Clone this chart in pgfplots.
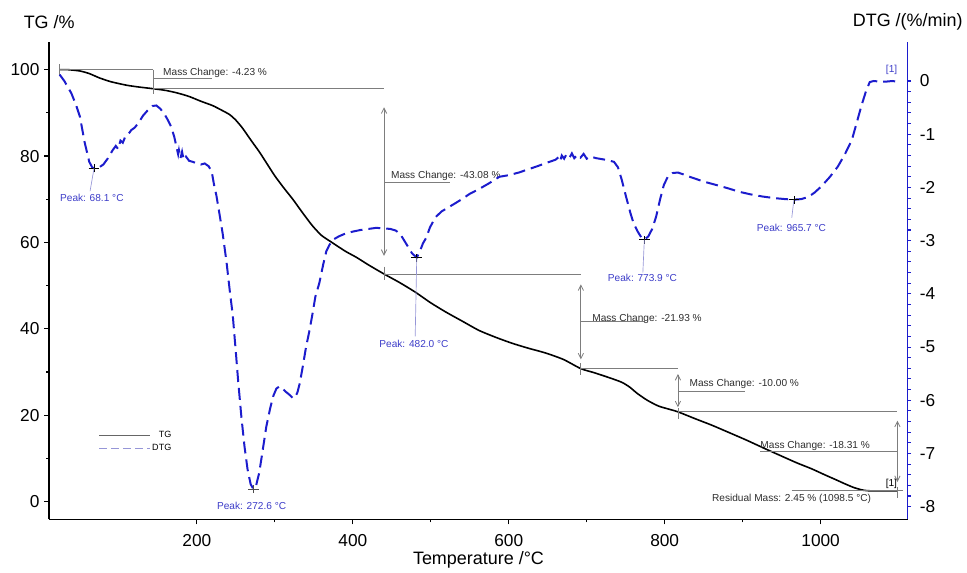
\documentclass[border=0pt]{standalone}
\usepackage{pgfplots}
\pgfplotsset{compat=1.18}
\usepackage{fontspec}
\setmainfont{Liberation Sans}
\usetikzlibrary{arrows.meta}

\definecolor{dtgblue}{RGB}{28,28,205}
\definecolor{peaktext}{RGB}{60,60,200}
\definecolor{peaklead}{RGB}{150,150,215}
\definecolor{anngray}{RGB}{125,125,125}
\definecolor{anntext}{RGB}{45,45,45}

\tikzset{
  ann/.style={draw=anngray, line width=0.6pt},
  annarr/.style={draw=anngray, line width=0.6pt, {Straight Barb[length=4pt,width=4pt]}-{Straight Barb[length=4pt,width=4pt]}},
  anntxt/.style={font=\fontsize{7.6}{9}\selectfont, text=anntext, inner sep=0pt},
  pktxt/.style={font=\fontsize{7.6}{9}\selectfont, text=peaktext, inner sep=0pt},
  pklead/.style={draw=peaklead, line width=0.5pt},
}

\pgfplotsset{
  myaxis/.style={
    width=645.5pt, height=359.25pt, scale only axis,
    at={(0,0)}, anchor=south west,
    xmin=10.6, xmax=1111.7,
    clip=false,
    tick align=outside,
    major tick length=3.8pt, minor tick length=2.2pt,
    /pgf/number format/assume math mode=true,
    /pgf/number format/1000 sep={},
    tick label style={font=\fontsize{13}{15}\selectfont},
  }
}

\begin{document}
\begin{tikzpicture}
\begin{axis}[myaxis, name=tg,
  axis x line*=bottom, axis y line*=left,
  ymin=-4.16, ymax=106.5,
  xtick={200,400,600,800,1000}, minor x tick num=1,
  ytick={0,20,40,60,80,100}, minor y tick num=1,
  xticklabel style={yshift=-3.8pt},
  axis line style={black, line width=1.1pt},
  tick style={black, line width=0.9pt},
  legend style={draw=none, fill=none, at={(axis cs:74,16.9)}, anchor=north west,
    font=\fontsize{6.8}{7}\selectfont, inner sep=0pt, row sep=0.8pt,
    nodes={inner sep=1.5pt}},
  legend cell align=right,
  legend image code/.code={\draw[#1] (0pt,0pt) -- (38pt,0pt);},
]
\addplot[black, line width=1.2pt, smooth, tension=0.4, forget plot] coordinates {
(24,100)(35,100)(50,99.7)(62,99.1)(75,98.1)(90,97.2)(110,96.4)(125,96.0)
(143.7,95.6)(160,95.2)(175,94.6)(190,93.8)(205,92.7)(220,91.7)(232,90.6)
(242,89.6)(250,88.3)(258,86.6)(265,84.8)(272,83.0)(280,81.0)(290,78.2)
(300,75.4)(312,72.5)(323,70.0)(335,67.0)(348,63.9)(360,61.6)(374,59.9)
(390,58.0)(405,56.5)(420,54.8)(440,52.69)(460,50.7)(480,48.5)(500,46.0)
(520,43.8)(540,41.8)(562,39.6)(585,37.9)(605,36.6)(625,35.5)(647,34.4)
(670,32.9)(692.5,30.76)(710,29.8)(730,28.6)(745,27.6)(755,26.5)(765,25.0)
(778,23.4)(792,22.1)(805,21.4)(817,20.76)(840,19.1)(860,17.7)(882,16.0)
(905,14.2)(929,12.2)(950,10.5)(970,8.9)(988,7.6)(1005,6.2)(1020,5.0)
(1031,4.1)(1043,3.2)(1055,2.6)(1065,2.45)(1080,2.45)(1098.5,2.45)
};
\addlegendimage{draw=black!60, line width=0.6pt}
\addlegendentry{TG}
\addlegendimage{draw=peaklead, line width=0.6pt, dash pattern=on 6pt off 3pt}
\addlegendentry{DTG}

% mass change annotations
\draw[ann] (axis cs:24,101.3) -- (axis cs:24,98.7);
\draw[ann] (axis cs:24,100) -- (axis cs:143.7,100);
\draw[ann] (axis cs:143.7,100) -- (axis cs:143.7,94.4);
\draw[ann] (axis cs:143.7,95.77) -- (axis cs:440,95.77);
\draw[ann] (axis cs:143.7,97.9) -- (axis cs:220,97.9);
\node[anntxt, anchor=west] at (axis cs:156.5,99.2) {Mass Change: -4.23 \%};

\draw[annarr] (axis cs:440,91.3) -- (axis cs:440,56.9);
\draw[ann] (axis cs:440,54.4) -- (axis cs:440,51.2);
\draw[ann] (axis cs:440,52.69) -- (axis cs:692.5,52.69);
\draw[ann] (axis cs:440,74.0) -- (axis cs:524,74.0);
\node[anntxt, anchor=west] at (axis cs:448.8,75.4) {Mass Change: -43.08 \%};

\draw[annarr] (axis cs:692.5,50.3) -- (axis cs:692.5,32.9);
\draw[ann] (axis cs:692.5,32.0) -- (axis cs:692.5,29.4);
\draw[ann] (axis cs:692.5,30.76) -- (axis cs:817,30.76);
\draw[ann] (axis cs:692.5,41.6) -- (axis cs:775,41.6);
\node[anntxt, anchor=west] at (axis cs:706.9,42.2) {Mass Change: -21.93 \%};

\draw[annarr] (axis cs:817,29.5) -- (axis cs:817,21.8);
\draw[ann] (axis cs:817,21.6) -- (axis cs:817,19.2);
\draw[ann] (axis cs:817,20.76) -- (axis cs:1098.5,20.76);
\draw[ann] (axis cs:817,25.6) -- (axis cs:903,25.6);
\node[anntxt, anchor=west] at (axis cs:831.6,27.2) {Mass Change: -10.00 \%};

\draw[annarr] (axis cs:1098.5,18.7) -- (axis cs:1098.5,4.5);
\draw[ann] (axis cs:922.5,11.5) -- (axis cs:1098.5,11.5);
\node[anntxt, anchor=west] at (axis cs:922.5,12.9) {Mass Change: -18.31 \%};
\draw[ann] (axis cs:1098.5,3.4) -- (axis cs:1098.5,0.9);
\draw[ann] (axis cs:962.9,2.45) -- (axis cs:1105.8,2.45);
\node[anntxt, anchor=center, text=black] at (axis cs:1090.8,4.0) {[1]};
\node[anntxt, anchor=west] at (axis cs:860.5,0.6) {Residual Mass: 2.45 \% (1098.5 °C)};

% axis titles
\node[font=\fontsize{13.5}{15}\selectfont, anchor=center] at ([yshift=14.8pt]rel axis cs:0,1) {TG /\%};
\node[font=\fontsize{13.5}{15}\selectfont, anchor=center] at ([yshift=14.8pt]rel axis cs:1,1) {DTG /(\%/min)};
\node[font=\fontsize{13.5}{15}\selectfont, anchor=center] at ([yshift=-30.5pt]rel axis cs:0.5,0) {Temperature /°C};
\end{axis}

\begin{axis}[myaxis,
  axis x line=none, axis y line*=right,
  ymin=-8.24, ymax=0.74,
  xtick=\empty,
  ytick={-8,-7,-6,-5,-4,-3,-2,-1,0}, minor y tick num=4,
  axis line style={dtgblue, line width=1.1pt},
  tick style={dtgblue, line width=0.8pt},
  major tick length=2.6pt, minor tick length=2.2pt,
  yticklabel style={black, xshift=3pt},
]
\addplot[dtgblue, line width=1.5pt, dash pattern=on 9pt off 4.5pt] coordinates {
(24,0.12)(30,0.0)(39,-0.23)(45,-0.45)(50,-0.67)(56,-1.15)(62,-1.52)(66,-1.63)
(70,-1.64)(75,-1.62)(80,-1.57)(86,-1.45)(92,-1.30)(96,-1.22)(99,-1.28)(102,-1.12)
(105,-1.16)(108,-1.05)(112,-1.0)(116,-0.92)(120,-0.88)(125,-0.79)(131,-0.65)
(137,-0.55)(143,-0.47)(148,-0.46)(153,-0.52)(158,-0.61)(163,-0.74)(167,-0.86)
(171,-1.05)(174,-1.25)(176,-1.38)(177,-1.30)(179,-1.45)(181,-1.33)(183,-1.48)
(186,-1.42)(190,-1.50)(195,-1.52)(200,-1.55)(205,-1.57)(210,-1.55)(215,-1.60)
(219,-1.70)(222,-1.95)(225,-2.15)(229,-2.50)(233,-2.86)(238,-3.40)(242,-3.92)
(246,-4.40)(250,-5.1)(253,-5.65)(257,-6.3)(261,-6.86)(265,-7.3)(269,-7.58)
(272.6,-7.67)(276,-7.6)(280,-7.36)(284,-6.98)(289,-6.5)(294,-6.15)(298,-5.92)
(302,-5.78)(306,-5.74)(310,-5.78)(314,-5.84)(319,-5.90)(323,-5.96)(326,-5.95)
(329,-5.85)(332,-5.68)(336,-5.35)(340,-5.0)(344,-4.72)(348,-4.4)(352,-4.05)
(357,-3.8)(362,-3.45)(366,-3.2)(370,-3.08)(375,-2.98)(382,-2.92)(390,-2.87)
(400,-2.83)(410,-2.80)(420,-2.78)(430,-2.76)(440,-2.77)(448,-2.78)(455,-2.81)
(461,-2.88)(466,-3.0)(471,-3.12)(476,-3.24)(482,-3.32)(486,-3.20)(490,-3.05)
(494,-2.95)(499,-2.75)(506,-2.56)(514,-2.45)(522,-2.38)(530,-2.31)(540,-2.22)
(550,-2.12)(562,-2.03)(575,-1.92)(588,-1.80)(600,-1.77)(613,-1.72)(625,-1.66)
(637,-1.60)(648,-1.54)(660,-1.48)(664,-1.43)(666,-1.50)(668,-1.40)(671,-1.46)
(674,-1.38)(678,-1.44)(681,-1.36)(684,-1.45)(688,-1.39)(692,-1.44)(696,-1.37)
(700,-1.46)(705,-1.42)(712,-1.45)(720,-1.47)(728,-1.49)(735,-1.52)(740,-1.62)
(745,-1.86)(750,-2.15)(756,-2.48)(760,-2.67)(765,-2.82)(770,-2.94)(774,-2.98)
(779,-2.92)(784,-2.78)(789,-2.55)(794,-2.23)(799,-1.95)(804,-1.80)(810,-1.73)
(817,-1.72)(825,-1.76)(832,-1.80)(840,-1.84)(850,-1.89)(860,-1.93)(870,-1.97)
(882,-2.02)(895,-2.08)(910,-2.13)(925,-2.17)(940,-2.2)(955,-2.22)(966,-2.23)
(975,-2.22)(984,-2.18)(992,-2.10)(1001,-1.98)(1012,-1.80)(1022,-1.61)(1031,-1.38)
(1040,-1.11)(1046,-0.80)(1052,-0.48)(1058,-0.20)(1063,-0.02)(1068,0.0)
(1075,-0.01)(1085,-0.01)(1092,0.0)(1097,-0.01)(1099,-0.09)
};

% peak markers and labels
\draw[black, line width=0.5pt] ([xshift=-4pt]axis cs:68.1,-1.64) -- ([xshift=4pt]axis cs:68.1,-1.64);
\draw[black, line width=0.5pt] ([yshift=-3pt]axis cs:68.1,-1.64) -- ([yshift=3pt]axis cs:68.1,-1.64);
\draw[pklead] (axis cs:68.1,-1.64) -- (axis cs:63,-2.07);
\node[pktxt, anchor=west] at (axis cs:24.3,-2.19) {Peak: 68.1 °C};

\draw[black!70, line width=0.5pt] ([xshift=-4pt]axis cs:272.6,-7.67) -- ([xshift=4pt]axis cs:272.6,-7.67);
\draw[black!70, line width=0.5pt] ([yshift=-3pt]axis cs:272.6,-7.67) -- ([yshift=3pt]axis cs:272.6,-7.67);
\node[pktxt, anchor=west] at (axis cs:225.6,-7.99) {Peak: 272.6 °C};

\draw[black, line width=0.5pt] ([xshift=-4pt]axis cs:482,-3.32) -- ([xshift=4pt]axis cs:482,-3.32);
\draw[black, line width=0.5pt] ([yshift=-3pt]axis cs:482,-3.32) -- ([yshift=3pt]axis cs:482,-3.32);
\draw[pklead] (axis cs:482,-3.32) -- (axis cs:480,-4.80);
\node[pktxt, anchor=west] at (axis cs:433.8,-4.95) {Peak: 482.0 °C};

\draw[black, line width=0.5pt] ([xshift=-4pt]axis cs:773.9,-2.98) -- ([xshift=4pt]axis cs:773.9,-2.98);
\draw[black, line width=0.5pt] ([yshift=-3pt]axis cs:773.9,-2.98) -- ([yshift=3pt]axis cs:773.9,-2.98);
\draw[pklead] (axis cs:773.9,-2.98) -- (axis cs:772,-3.60);
\node[pktxt, anchor=west] at (axis cs:726.9,-3.70) {Peak: 773.9 °C};

\draw[black, line width=0.5pt] ([xshift=-4pt]axis cs:965.7,-2.23) -- ([xshift=4pt]axis cs:965.7,-2.23);
\draw[black, line width=0.5pt] ([yshift=-3pt]axis cs:965.7,-2.23) -- ([yshift=3pt]axis cs:965.7,-2.23);
\draw[pklead] (axis cs:965.7,-2.23) -- (axis cs:963,-2.57);
\node[pktxt, anchor=west] at (axis cs:918,-2.76) {Peak: 965.7 °C};

\node[pktxt, anchor=center] at (axis cs:1091,0.21) {[1]};
\end{axis}

\path ([shift={(-37pt,-37pt)}]tg.south west) rectangle ([shift={(42.75pt,31.3pt)}]tg.north east);
\end{tikzpicture}
\end{document}
